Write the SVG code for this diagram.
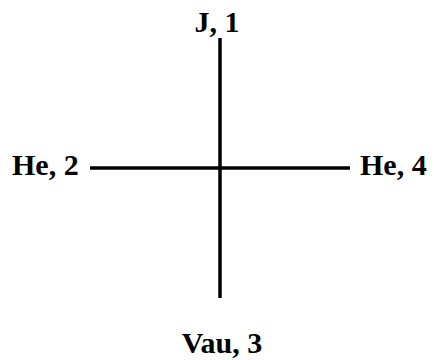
<svg xmlns="http://www.w3.org/2000/svg" width="434" height="360" viewBox="0 0 434 360">
<style>
.lbl{font-family:"Liberation Serif","Times New Roman",serif;font-weight:bold;font-size:30px;fill:#000}
.ln{stroke:#000;stroke-width:3.5;fill:none}
</style>
<rect width="434" height="360" fill="#fff"/>
<g id="connectors">
<line class="ln" x1="220" y1="38" x2="220" y2="298"/>
<line class="ln" x1="90" y1="168" x2="350" y2="168"/>
</g>
<g id="n1"><text class="lbl" x="217" y="32" text-anchor="middle">J, 1</text></g>
<g id="n2"><text class="lbl" x="12" y="175">He, 2</text></g>
<g id="n4"><text class="lbl" x="360" y="175">He, 4</text></g>
<g id="n3"><text class="lbl" x="222" y="353" text-anchor="middle">Vau, 3</text></g>
</svg>
